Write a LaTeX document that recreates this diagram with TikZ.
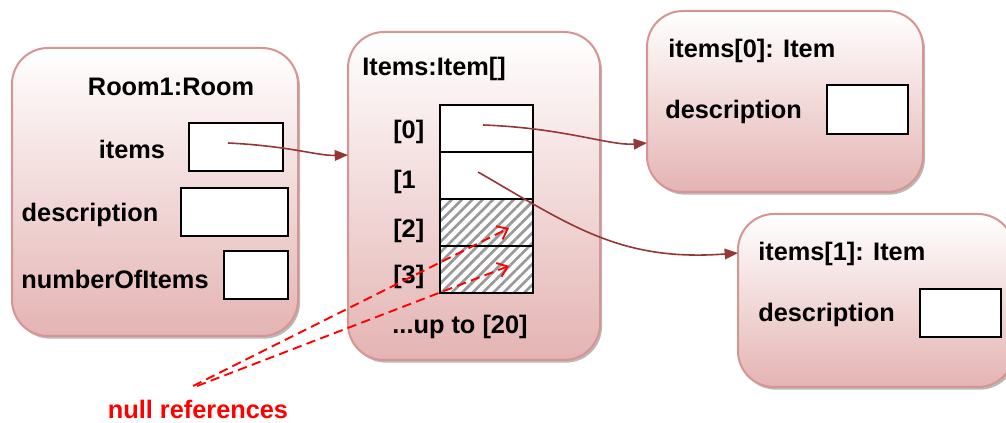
\documentclass[tikz,border=0pt]{standalone}
\usepackage{fontspec}
\setmainfont{Liberation Sans}
\usetikzlibrary{arrows.meta,shadows,patterns.meta}
\definecolor{boxbot}{RGB}{228,180,179}
\definecolor{boxline}{RGB}{214,148,146}
\definecolor{linkred}{RGB}{149,55,53}
\tikzset{
  obj/.style={draw=boxline, line width=1.5pt, rounded corners=27pt,
    top color=white, bottom color=boxbot,
    drop shadow={shadow xshift=1.5pt,shadow yshift=-2pt,fill=black!50,opacity=.55}},
  field/.style={draw=black, line width=1.1pt, fill=white, inner sep=0pt},
  cell/.style={field, minimum width=69.75pt, minimum height=35.25pt},
  null/.style={cell, preaction={fill=white},
    pattern={Lines[angle=45,distance=5.5pt,line width=2pt]}, pattern color=black!40},
  lbl/.style={font=\bfseries\fontsize{19}{22}\selectfont, inner sep=0pt, yshift=-1.5pt},
  link/.style={draw=linkred, line width=1.2pt, -{Triangle[length=10pt,width=8pt]}},
  nullref/.style={draw=red, line width=1.4pt, dash pattern=on 7pt off 4pt,
    -{Straight Barb[length=7pt,width=11pt]}}
}
\begin{document}
\begin{tikzpicture}[x=0.75pt,y=-0.75pt]
\useasboundingbox (0,0) rectangle (1006,423);
% object boxes
\node[obj, minimum width=214.5pt, minimum height=216pt] (room) at (155,192) {};
\node[obj, minimum width=189pt, minimum height=246pt] (array) at (474,196) {};
\node[obj, minimum width=207pt, minimum height=135.75pt] (item0) at (785,101.5) {};
\node[obj, minimum width=207pt, minimum height=129.75pt] (item1) at (876,300.5) {};
% room
\node[lbl] (roomtitle) at (171,85) {Room1:Room};
\node[lbl] (roomitemslbl) at (132,147) {items};
\node[lbl] (roomdesclbl) at (90,213) {description};
\node[lbl] (roomnumlbl) at (115,277) {numberOfItems};
\node[field, minimum width=70.5pt, minimum height=36pt] (roomitems) at (236,147) {};
\node[field, minimum width=80.25pt, minimum height=36pt] (roomdesc) at (234.5,212) {};
\node[field, minimum width=48pt, minimum height=36pt] (roomnum) at (256,275) {};
% array
\node[lbl, anchor=west] (arraytitle) at (362,67) {Items:Item[]};
\node[cell] (c0) at (486.5,128.5) {};
\node[cell] (c1) at (486.5,175.5) {};
\node[null] (c2) at (486.5,222.5) {};
\node[null] (c3) at (486.5,269.5) {};
\node[lbl, anchor=west] (l0) at (393,130) {[0]};
\node[lbl, anchor=west] (l1) at (393,180) {[1};
\node[lbl, anchor=west] (l2) at (393,229) {[2]};
\node[lbl, anchor=west] (l3) at (393,275) {[3]};
\node[lbl] (upto) at (460,325) {...up to [20]};
% item 0
\node[lbl, anchor=west] (item0title) at (668,49) {items[0]: Item};
\node[lbl, anchor=west] (item0desclbl) at (665,110) {description};
\node[field, minimum width=60.75pt, minimum height=36.75pt] (item0desc) at (867.5,109.5) {};
% item 1
\node[lbl, anchor=west] (item1title) at (758,252) {items[1]: Item};
\node[lbl, anchor=west] (item1desclbl) at (758,313) {description};
\node[field, minimum width=60.75pt, minimum height=36pt] (item1desc) at (960.5,313) {};
% null references
\node[lbl, text=red, yshift=1.5pt] (nulltxt) at (198,409) {null references};
% connector points
\coordinate (s1) at (228,143);
\coordinate (e1) at (348,155);
\coordinate (s2) at (483,125);
\coordinate (e2) at (647,143);
\coordinate (s3) at (478,172);
\coordinate (e3) at (738,253);
\coordinate (n0) at (193,386);
\coordinate (n2) at (509,228);
\coordinate (n3) at (509,266);
% links
\draw[link] (s1) .. controls (290,146) and (318,156) .. (e1);
\draw[link] (s2) .. controls (565,128) and (610,146) .. (e2);
\draw[link] (s3) .. controls (570,225) and (620,262) .. (e3);
\draw[nullref] (n0) -- (n2);
\draw[nullref] ([xshift=3pt]n0) -- (n3);
\end{tikzpicture}
\end{document}
